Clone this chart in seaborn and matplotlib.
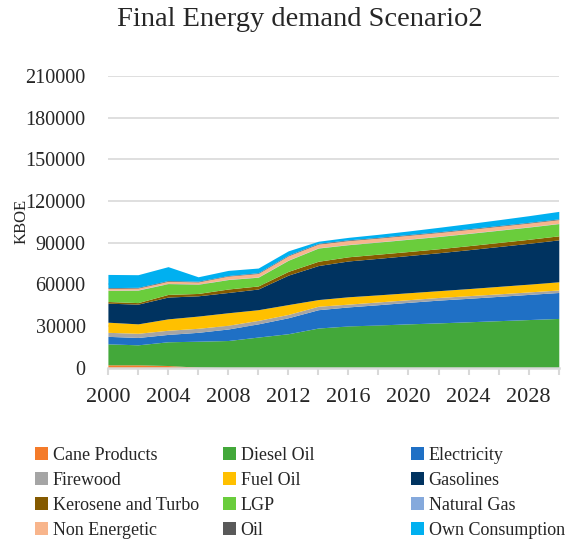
import matplotlib
matplotlib.use("Agg")
import matplotlib.pyplot as plt
from matplotlib.patches import Patch
import seaborn as sns
import pandas as pd

# data (KBOE, every second year)
years = [2000, 2002, 2004, 2006, 2008, 2010, 2012, 2014, 2016,
         2018, 2020, 2022, 2024, 2026, 2028, 2030]
cane_products = [2000, 2000, 1500, 300, 0, 0, 0, 0, 0, 0, 0, 0, 0, 0, 0, 0]
diesel_oil = [15100, 14400, 17100, 18700, 19500, 22000, 24400, 28500, 30000,
              30700, 31500, 32200, 33000, 33800, 34600, 35400]
electricity = [5400, 5300, 5300, 6400, 8300, 9500, 11500, 13200, 13700,
               14600, 15500, 16400, 16900, 17500, 18100, 18700]
firewood = [2900, 3000, 3000, 2900, 2700, 2500, 2400, 2500, 2000,
            2000, 1900, 1900, 1900, 1800, 1800, 1800]
fuel_oil = [7300, 6800, 8200, 8800, 9000, 7700, 7100, 4800, 5300,
            5100, 5000, 4900, 5100, 5400, 5600, 5900]
gasolines = [13700, 14200, 15700, 14600, 14600, 14900, 21200, 24500, 25800,
             26300, 26800, 27300, 28000, 28700, 29400, 30200]
kerosene_turbo = [1200, 1100, 1900, 1700, 2500, 2200, 2700, 3100, 3000,
                  3000, 2900, 2900, 2900, 2900, 2900, 2900]
lgp = [8000, 9000, 7800, 6600, 6800, 6300, 8000, 9500, 8700,
       8700, 8800, 8800, 8800, 8800, 8800, 8800]
natural_gas = [200, 200, 200, 200, 200, 200, 200, 200, 200,
               200, 200, 200, 200, 200, 200, 200]
non_energetic = [1300, 1300, 1500, 1500, 2300, 2500, 3000, 2700, 2800,
                 2700, 2700, 2700, 2700, 2700, 2700, 2700]
oil = [500, 500, 500, 500, 400, 500, 500, 500, 500,
       500, 500, 500, 500, 500, 500, 500]
own_consumption = [9500, 9100, 10000, 3200, 3700, 3400, 3100, 1500, 1800,
                   2200, 2600, 3200, 3700, 4200, 4800, 5400]

labels = ["Cane Products", "Diesel Oil", "Electricity", "Firewood", "Fuel Oil",
          "Gasolines", "Kerosene and Turbo", "LGP", "Natural Gas",
          "Non Energetic", "Oil", "Own Consumption"]
colors = ["#F47B2A", "#43A83A", "#1F70C5", "#A5A5A5", "#FFC000", "#003360",
          "#855A00", "#6ACD3C", "#85A9DC", "#F8B58C", "#595959", "#00B0F0"]

df = pd.DataFrame({
    "Cane Products": cane_products, "Diesel Oil": diesel_oil,
    "Electricity": electricity, "Firewood": firewood, "Fuel Oil": fuel_oil,
    "Gasolines": gasolines, "Kerosene and Turbo": kerosene_turbo, "LGP": lgp,
    "Natural Gas": natural_gas, "Non Energetic": non_energetic, "Oil": oil,
    "Own Consumption": own_consumption}, index=years)

sns.set_theme(style="white")
plt.rcParams["font.family"] = ["Liberation Serif", "DejaVu Serif"]

fig = plt.figure(figsize=(5.65, 5.39), dpi=100)
ax = fig.add_axes([0.191, 0.318, 0.798, 0.541])

ax.stackplot(df.index, [df[c] for c in labels], colors=colors, linewidth=0)

ax.set_xlim(2000, 2030)
ax.set_ylim(0, 210000)
ax.set_yticks(range(0, 210001, 30000))
ax.set_xticks(years)
ax.set_xticklabels([str(y) if (y - 2000) % 4 == 0 and y < 2030 else "" for y in years])
ax.yaxis.grid(True, color="#D9D9D9", linewidth=1.2)
ax.set_axisbelow(True)
for s in ["top", "right", "left"]:
    ax.spines[s].set_visible(False)
ax.spines["bottom"].set_color("#D9D9D9")
ax.spines["bottom"].set_linewidth(1.8)
ax.tick_params(axis="x", bottom=True, direction="out", length=5, width=1.5,
               color="#D9D9D9", labelsize=16, pad=10)
ax.tick_params(axis="y", left=False, labelsize=14.5, pad=10)
ax.set_ylabel("KBOE", fontsize=12, labelpad=-3)

fig.text(300 / 565, 1 - 20 / 539, "Final Energy demand Scenario2",
         ha="center", va="center", fontsize=20.5)

# legend, three columns laid out row by row
col_x = [22, 210, 398]
for c in range(3):
    handles = [Patch(facecolor=colors[r * 3 + c], edgecolor="none",
                     label=labels[r * 3 + c]) for r in range(4)]
    fig.legend(handles=handles, loc="upper left",
               bbox_to_anchor=(col_x[c] / 565, 1 - 434 / 539),
               frameon=False, fontsize=13, handlelength=0.75, handleheight=0.75,
               handletextpad=0.25, labelspacing=0.45, borderpad=0.2)

fig.savefig("out.png", dpi=100)
